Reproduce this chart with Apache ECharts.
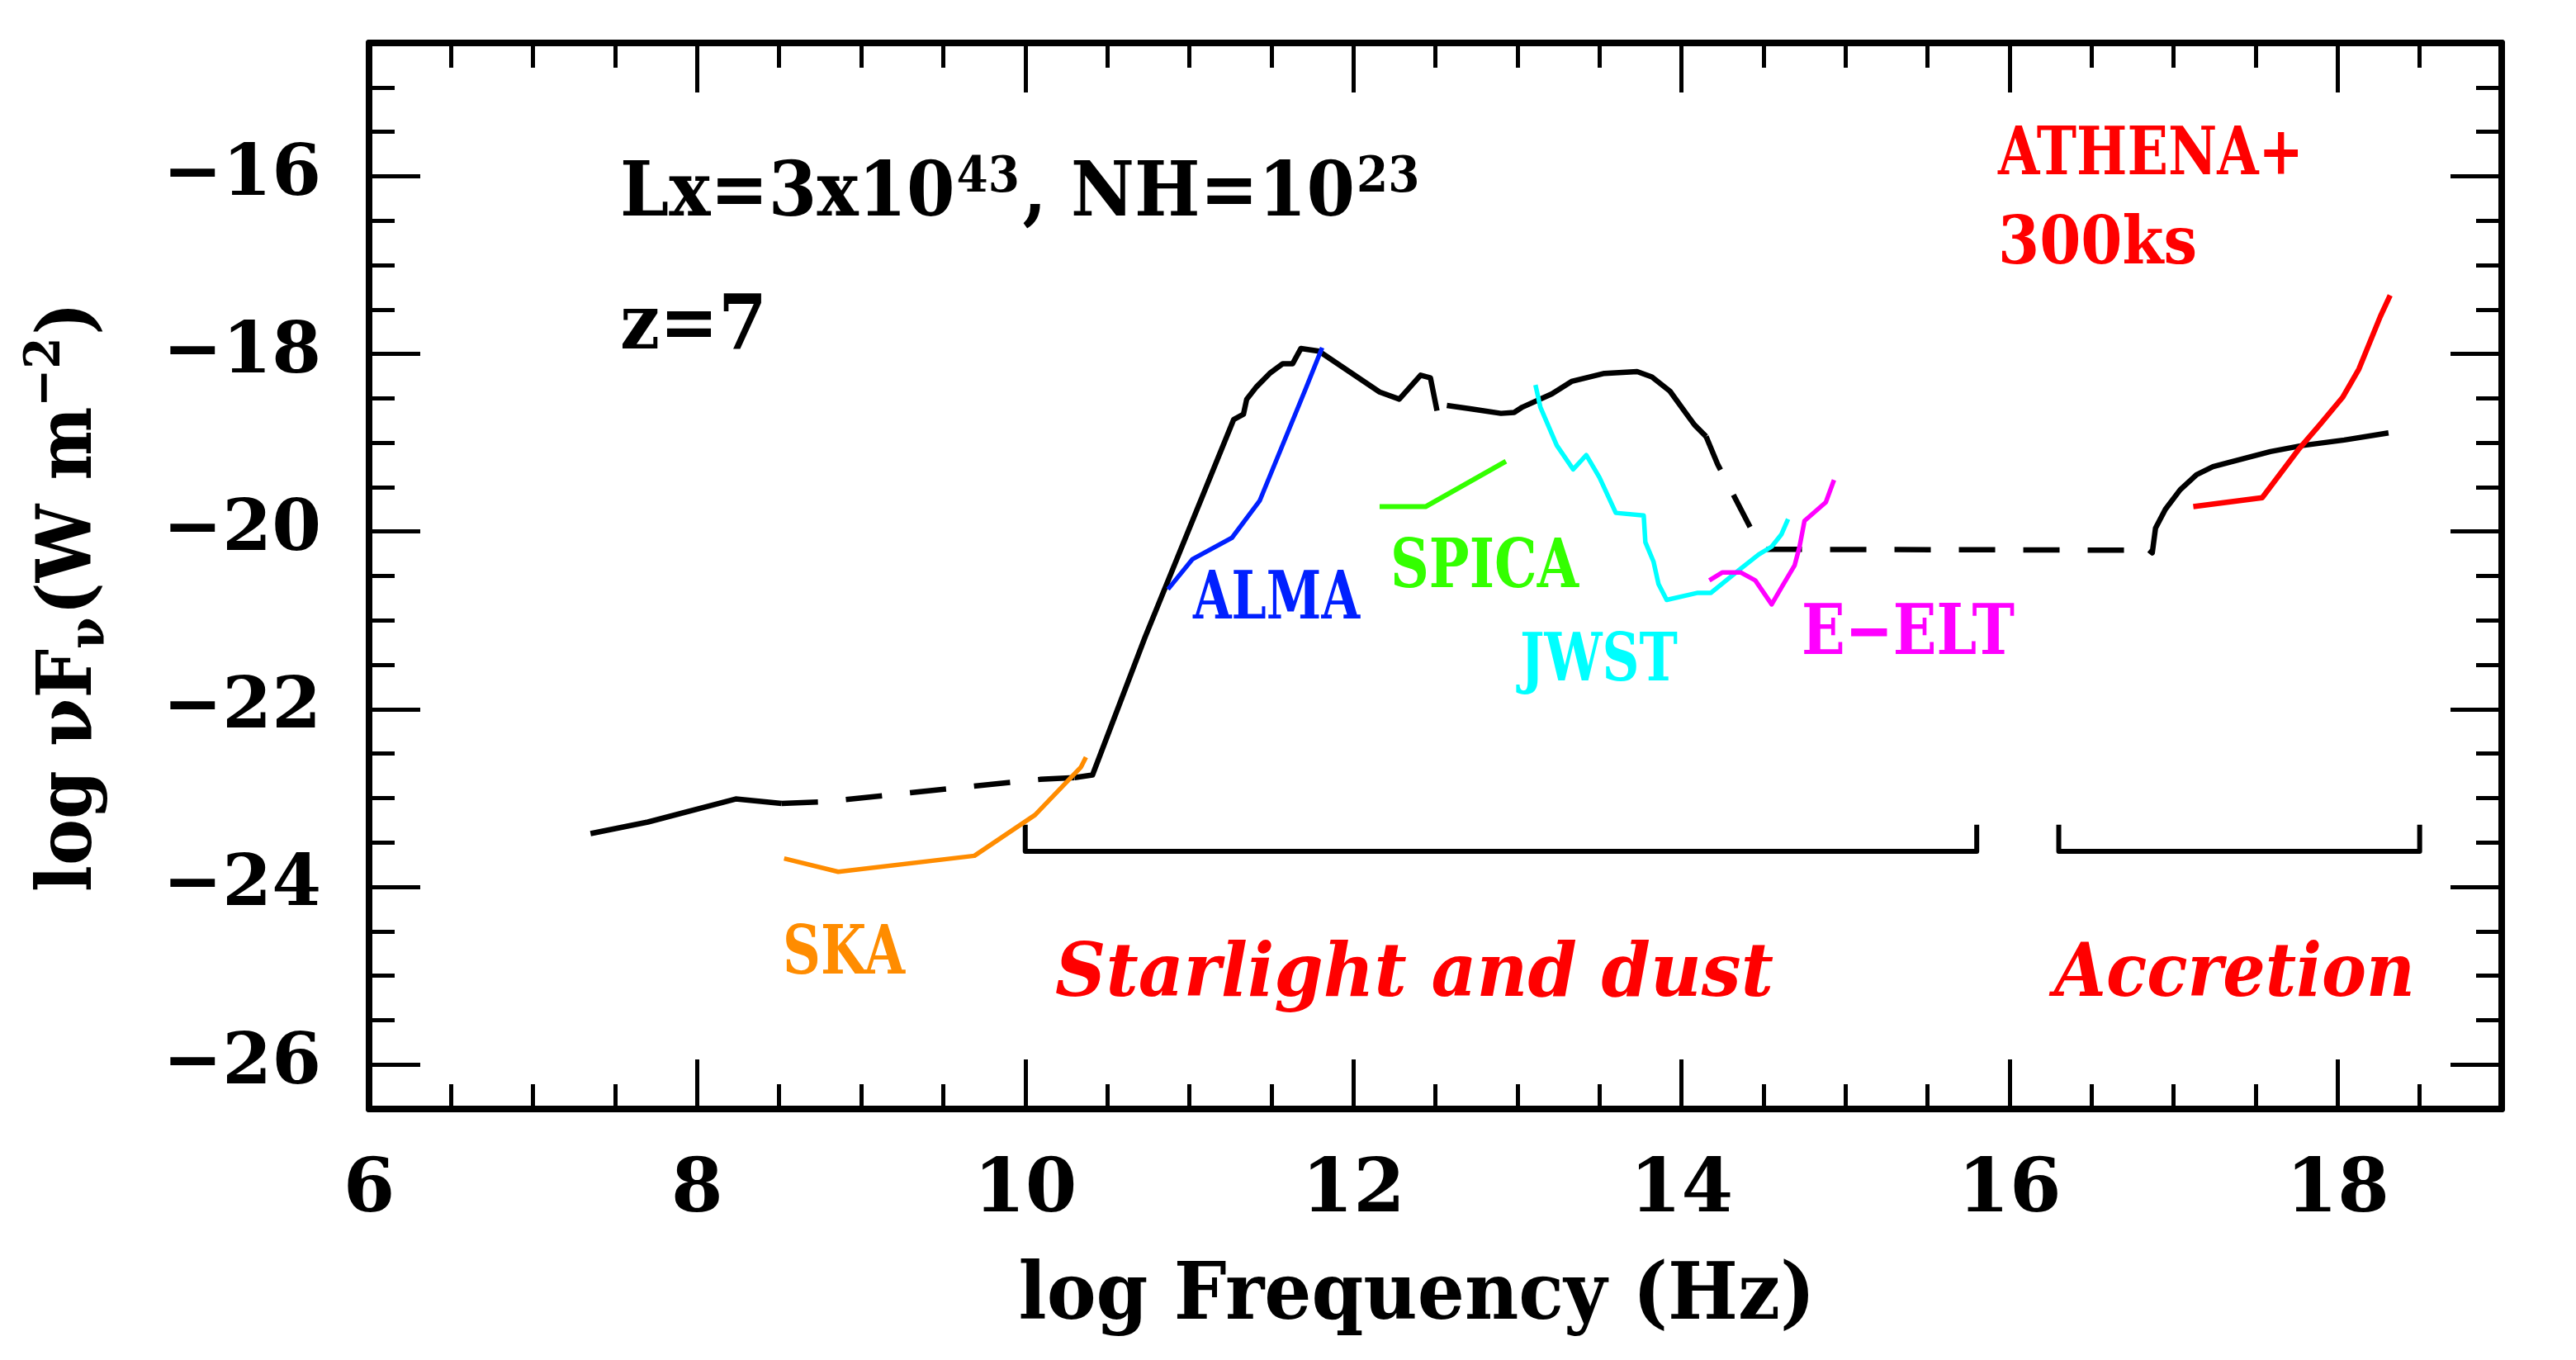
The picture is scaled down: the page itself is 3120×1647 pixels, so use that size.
<!DOCTYPE html>
<html>
<head>
<meta charset="utf-8">
<script src="https://cdn.jsdelivr.net/npm/echarts/dist/echarts.min.js"></script>
<style>html,body{margin:0;padding:0;background:#fff}#chart{width:3120px;height:1647px}</style>
</head>
<body>
<div id="chart"></div>
<script>
// ---------- data (log nu, log nuFnu) ----------
const sedRadio    = [[7.35,-23.40],[7.70,-23.27],[8.235,-23.01],[8.515,-23.06]];
const sedRadioGap = [[8.515,-23.06],[8.79,-23.04],[9.30,-22.94],[10.09,-22.79],[10.30,-22.77]];
const sedDust     = [[10.30,-22.77],[10.41,-22.74],[10.73,-21.19],[11.27,-18.74],[11.33,-18.68],[11.35,-18.51],[11.41,-18.37],[11.49,-18.22],[11.57,-18.11],[11.63,-18.11],[11.68,-17.94],[11.79,-17.97],[12.16,-18.43],[12.28,-18.51],[12.41,-18.24],[12.47,-18.27],[12.51,-18.64]];
const sedStars    = [[12.57,-18.58],[12.72,-18.62],[12.90,-18.67],[12.98,-18.66],[13.03,-18.60],[13.21,-18.45],[13.33,-18.31],[13.53,-18.22],[13.73,-18.20],[13.82,-18.26],[13.93,-18.42],[14.04,-18.70],[14.08,-18.80],[14.15,-18.93]];
const sedUVGap    = [[14.15,-18.93],[14.22,-19.24],[14.48,-20.17],[14.52,-20.20],[16.85,-20.21]];
const sedXray     = [[16.85,-20.21],[16.87,-20.24],[16.89,-19.96],[16.95,-19.75],[17.04,-19.53],[17.14,-19.36],[17.24,-19.27],[17.34,-19.22],[17.59,-19.10],[17.79,-19.03],[18.04,-18.97],[18.31,-18.89]];
const ska    = [[8.53,-23.68],[8.86,-23.83],[9.69,-23.65],[10.06,-23.19],[10.34,-22.65],[10.37,-22.54]];
const alma   = [[10.87,-20.65],[11.02,-20.31],[11.26,-20.07],[11.43,-19.65],[11.71,-18.39],[11.81,-17.93]];
const spica  = [[12.16,-19.72],[12.44,-19.72],[12.93,-19.21]];
const jwst   = [[13.11,-18.35],[13.14,-18.60],[13.24,-19.03],[13.34,-19.30],[13.42,-19.14],[13.50,-19.39],[13.60,-19.79],[13.77,-19.82],[13.78,-20.12],[13.83,-20.34],[13.86,-20.59],[13.91,-20.77],[14.10,-20.69],[14.18,-20.69],[14.36,-20.42],[14.47,-20.26],[14.55,-20.17],[14.61,-20.03],[14.65,-19.86]];
const eelt   = [[14.17,-20.55],[14.25,-20.46],[14.36,-20.46],[14.45,-20.55],[14.55,-20.82],[14.61,-20.63],[14.69,-20.38],[14.72,-20.17],[14.75,-19.88],[14.88,-19.67],[14.93,-19.42]];
const athena = [[17.12,-19.72],[17.54,-19.62],[17.76,-19.08],[17.89,-18.80],[18.03,-18.49],[18.13,-18.17],[18.26,-17.58],[18.32,-17.34]];
const bracketStar = [[10.0,-23.3],[10.0,-23.6],[15.8,-23.6],[15.8,-23.3]];
const bracketAcc  = [[16.3,-23.3],[16.3,-23.6],[18.5,-23.6],[18.5,-23.3]];
// ---------- ticks ----------
const xMajor = [6,8,10,12,14,16,18];
const xMinor = [6.5,7,7.5,8.5,9,9.5,10.5,11,11.5,12.5,13,13.5,14.5,15,15.5,16.5,17,17.5,18.5];
const yMajor = [-26,-24,-22,-20,-18,-16];
const yMinor = [-26.5,-25.5,-25,-24.5,-23.5,-23,-22.5,-21.5,-21,-20.5,-19.5,-19,-18.5,-17.5,-17,-16.5,-15.5,-15,-14.5];

const FONT = "'DejaVu Serif', serif";
const mctx = document.createElement('canvas').getContext('2d');
function tw(t, size, w, i){ mctx.font = (i||'normal')+' '+(w||'normal')+' '+size+'px '+FONT; return mctx.measureText(t).width; }
function txt(t, x, y, size, color, o){ o=o||{};
  return {type:'text', x:x, y:y, scaleX:o.sx||1, silent:true, z:100,
    style:{text:t, fontSize:size, fontFamily:FONT, fontWeight:o.w||'normal', fontStyle:o.i||'normal', fill:color,
      textAlign:o.align||'left', align:o.align||'left', textVerticalAlign:'middle', verticalAlign:'middle'}};
}
function fit(t, x, y, size, width, color, o){ o=o||{}; const n=tw(t,size,o.w,o.i); o.sx=width/n; return txt(t,x,y,size,color,o); }

const minus = v => v<0 ? '\u2212'+Math.abs(v) : String(v);
const AX = {color:'#000', width:8};
const TICKW = 5;
function xAx(pos, major){
  return {type:'value', min:6, max:19, position:pos, gridIndex:0,
    axisLine:{show:major, onZero:false, lineStyle:AX},
    axisTick:{show:true, inside:true, length:major?60:30, customValues:major?xMajor:xMinor, lineStyle:{color:'#000', width:TICKW}},
    axisLabel:{show:major&&pos==='bottom', customValues:xMajor, margin:56, fontSize:90, fontWeight:'bold', fontFamily:FONT, color:'#000'},
    splitLine:{show:false}, minorTick:{show:false}};
}
function yAx(pos, major){
  return {type:'value', min:-26.5, max:-14.5, position:pos, gridIndex:0,
    axisLine:{show:major, onZero:false, lineStyle:AX},
    axisTick:{show:true, inside:true, length:major?62:31, customValues:major?yMajor:yMinor, lineStyle:{color:'#000', width:TICKW}},
    axisLabel:{show:major&&pos==='left', customValues:yMajor, formatter:minus, margin:58, fontSize:86, fontWeight:'bold', fontFamily:FONT, color:'#000'},
    splitLine:{show:false}, minorTick:{show:false}};
}
function ln(data, color, width, dashed){
  return {type:'line', data:data, xAxisIndex:0, yAxisIndex:0, symbol:'none', silent:true, animation:false,
    lineStyle:{color:color, width:width, type:dashed?[44,34]:'solid', cap:'butt', join:'round'}};
}

const big = 92, sup = 60;
const g = [];
// Lx line, fitted to the reference extent
(function(){
  const x0 = 751, target = 972, y = 237, ys = 216;
  const parts = [['Lx=3x10',big,y],['43',sup,ys],[', NH=10',big,y],['23',sup,ys]];
  const ws = parts.map(p=>tw(p[0],p[1],'bold') + (p[1]===sup?4:2));
  const tot = ws.reduce((a,b)=>a+b,0), s = target/tot;
  let x = x0;
  parts.forEach((p,i)=>{ g.push(txt(p[0], x, p[2], p[1], '#000', {w:'bold', sx:s})); x += ws[i]*s; });
})();
g.push(fit('z=7', 751, 398, big, 178, '#000', {w:'bold'}));
g.push(fit('ATHENA+', 2420, 190, 80, 370, '#ff0000', {w:'bold'}));
g.push(fit('300ks', 2420, 298, 80, 241, '#ff0000', {w:'bold'}));
g.push(fit('ALMA', 1445, 728, 80, 202, '#0020ff', {w:'bold'}));
g.push(fit('SPICA', 1684, 690, 82, 228, '#33ff00', {w:'bold'}));
g.push(fit('JWST', 1841, 803, 80, 191, '#00ffff', {w:'bold'}));
g.push(fit('E\u2212ELT', 2182, 770, 84, 258, '#ff00ff', {w:'bold'}));
g.push(fit('SKA', 948, 1158, 82, 148, '#ff8c00', {w:'bold'}));
g.push(fit('Starlight and dust', 1278, 1183, 89, 870, '#ff0000', {w:'bold', i:'italic'}));
g.push(fit('Accretion', 2488, 1183, 89, 437, '#ff0000', {w:'bold', i:'italic'}));
// x title
g.push(fit('log Frequency (Hz)', 1716, 1572, 95, 965, '#000', {align:'center', w:'bold'}));
// y title (rotated group)
(function(){
  const parts = [['log \u03BDF',big,0],['\u03BD',sup,24],['(W m',big,0],['\u22122',sup,-30],[')',big,0]];
  const ws = parts.map(p=>tw(p[0],p[1],'bold') + (p[1]===sup?3:0));
  const L = ws.reduce((a,b)=>a+b,0), s = 714/L;
  let x = -L/2; const ch=[];
  parts.forEach((p,i)=>{ ch.push(txt(p[0], x, p[2], p[1], '#000', {w:'bold'})); x += ws[i]; });
  g.push({type:'group', x:86, y:723, rotation:Math.PI/2, scaleX:s, children:ch});
})();

const chart = echarts.init(document.getElementById('chart'), null, {renderer:'canvas'});
chart.setOption({
  animation:false,
  backgroundColor:'#fff',
  grid:{left:447, top:52, width:2583, height:1291, containLabel:false, outerBoundsMode:'none'},
  xAxis:[xAx('bottom',true), xAx('bottom',false), xAx('top',true), xAx('top',false)],
  yAxis:[yAx('left',true), yAx('left',false), yAx('right',true), yAx('right',false)],
  series:[
    ln(sedRadio,'#000',6.5), ln(sedRadioGap,'#000',6.5,true), ln(sedDust,'#000',6.5), ln(sedStars,'#000',6.5),
    ln(sedUVGap,'#000',6.5,true), ln(sedXray,'#000',6.5),
    ln(bracketStar,'#000',6), ln(bracketAcc,'#000',6),
    ln(ska,'#ff8c00',5.5), ln(alma,'#0020ff',5.5), ln(spica,'#33ff00',6), ln(jwst,'#00ffff',5.5),
    ln(eelt,'#ff00ff',5.5), ln(athena,'#ff0000',6.5)
  ],
  graphic:g
});
</script>
</body>
</html>
